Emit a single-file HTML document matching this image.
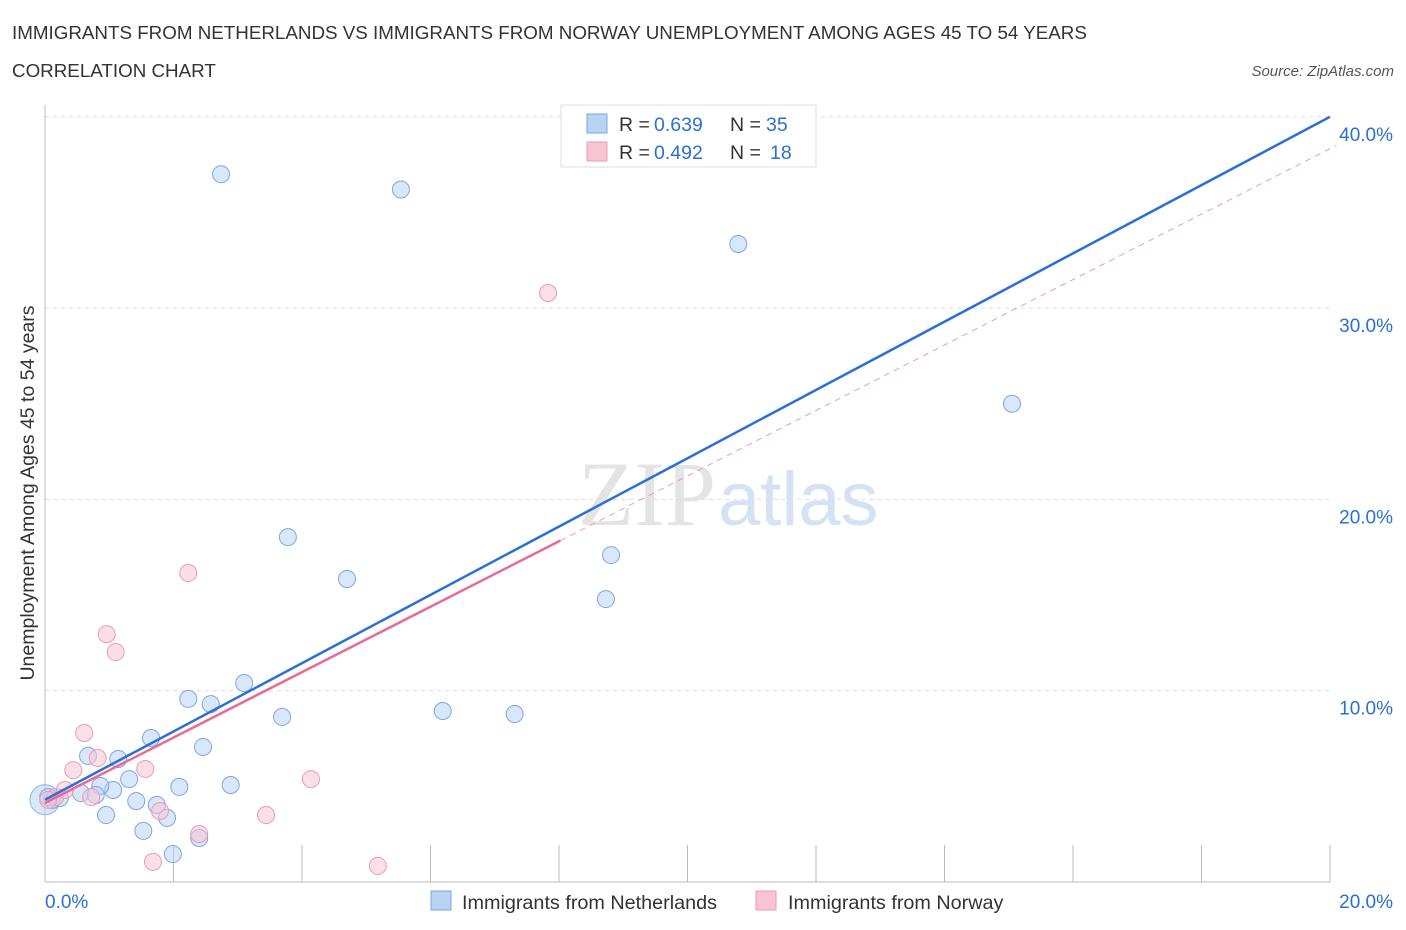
<!DOCTYPE html>
<html><head><meta charset="utf-8"><style>
body{margin:0;background:#fff;font-family:"Liberation Sans",sans-serif;}
svg{display:block}
</style></head><body>
<svg id="chart" width="1406" height="930">
<text x="12" y="39" font-size="18.8" fill="#333">IMMIGRANTS FROM NETHERLANDS VS IMMIGRANTS FROM NORWAY UNEMPLOYMENT AMONG AGES 45 TO 54 YEARS</text>
<text x="12" y="77" font-size="18.8" fill="#333">CORRELATION CHART</text>
<text x="1394" y="76" font-size="15" fill="#555" font-style="italic" text-anchor="end">Source: ZipAtlas.com</text>
<text x="716" y="525" font-size="92" fill="#e4e4e4" text-anchor="end" font-family="Liberation Serif,serif">ZIP</text>
<text x="718" y="525" font-size="76" fill="#d4e2f4">atlas</text>
<text transform="translate(34,493) rotate(-90)" font-size="19.5" fill="#333" text-anchor="middle">Unemployment Among Ages 45 to 54 years</text>
<g id="grid"></g><g id="marks"></g>
<g>
<rect x="561" y="105" width="255" height="62" fill="#fff" stroke="#ddd"/>
<rect x="587" y="114" width="20" height="19" fill="#b9d3f5" stroke="#7aa7e6"/>
<rect x="587" y="142" width="20" height="19" fill="#f8c4d4" stroke="#eb9bb5"/>
<text x="619" y="131" font-size="19.5" fill="#333">R =</text>
<text x="654" y="131" font-size="19.5" fill="#2b6fd6">0.639</text>
<text x="730" y="131" font-size="19.5" fill="#333">N =</text>
<text x="766" y="131" font-size="19.5" fill="#2b6fd6">35</text>
<text x="619" y="159" font-size="19.5" fill="#333">R =</text>
<text x="654" y="159" font-size="19.5" fill="#2b6fd6">0.492</text>
<text x="730" y="159" font-size="19.5" fill="#333">N =</text>
<text x="770" y="159" font-size="19.5" fill="#2b6fd6">18</text>
</g>
<g>
<rect x="431" y="891" width="20" height="19" fill="#b9d3f5" stroke="#7aa7e6"/>
<text x="462" y="909" font-size="19.8" fill="#333">Immigrants from Netherlands</text>
<rect x="756" y="891" width="20" height="19" fill="#f8c4d4" stroke="#eb9bb5"/>
<text x="788" y="909" font-size="19.8" fill="#333">Immigrants from Norway</text>
</g>
</svg>
<script>
const yTicks=[10,20,30,40];
const yTickLabels=["10.0%","20.0%","30.0%","40.0%"];
const xTickLabels=["0.0%","20.0%"];
const blueX=[2.74,5.54,10.79,15.05,3.78,4.70,8.81,8.73,3.10,2.23,2.58,3.69,6.19,7.31,1.65,2.46,0.67,1.14,1.31,2.09,2.89,1.06,0.86,0.56,0.79,1.42,1.74,0.95,1.90,1.53,2.40,1.99,0.11,0.23,0.05];
const blueY=[37.0,36.2,33.35,25.0,18.03,15.84,17.09,14.79,10.40,9.57,9.30,8.63,8.94,8.78,7.53,7.06,6.59,6.43,5.38,4.97,5.07,4.81,5.02,4.65,4.55,4.23,4.03,3.50,3.35,2.67,2.30,1.46,4.29,4.39,4.44];
const pinkX=[7.83,2.23,0.96,1.10,0.61,1.56,0.82,0.44,4.14,0.72,1.79,2.40,3.44,1.68,5.18,0.16,0.31,0.05];
const pinkY=[30.79,16.15,12.96,12.02,7.79,5.91,6.48,5.85,5.38,4.44,3.71,2.51,3.50,1.05,0.84,4.44,4.81,4.29];
const blueFit=[4.3,1.785];
const pinkFit=[4.13,1.71];
const pinkSolidEnd=8.02, pinkDashEnd=20.1;

const NS="http://www.w3.org/2000/svg";
const xs=v=>45+v/20*1285;
const ys=v=>882-v*19.13;
function mk(tag,attrs,parent){const e=document.createElementNS(NS,tag);for(const k in attrs)e.setAttribute(k,attrs[k]);parent.appendChild(e);return e;}
const grid=document.getElementById('grid'), marks=document.getElementById('marks');
yTicks.forEach((t,i)=>{
 const l=mk('line',{x1:45,x2:1330,y1:ys(t),y2:ys(t),stroke:'#ddd','stroke-dasharray':'4,4'},grid);
 
 
 const tx=mk('text',{x:1393,y:ys(t)+24,'font-size':19,fill:'#2b6fd6','text-anchor':'end'},grid);
 tx.textContent=yTickLabels[i];
 
 
});
const ax=mk('line',{x1:45,x2:1330,y1:882,y2:882,stroke:'#bbb'},grid);


const ay=mk('line',{x1:45,x2:45,y1:105,y2:882,stroke:'#bbb'},grid);


for(let i=0;i<=10;i++){
 const t=mk('line',{x1:xs(i*2),x2:xs(i*2),y1:845,y2:882,stroke:'#bbb'},grid);
 
 
}
[[0,45,'start'],[20,1393,'end']].forEach((d,i)=>{
 const t=mk('text',{x:d[1],y:908,'font-size':19,fill:'#2b6fd6','text-anchor':d[2]},grid);
 t.textContent=xTickLabels[i];
 
 
});
const big=mk('circle',{cx:xs(0),cy:ys(4.3),r:15,fill:'rgba(185,211,245,0.55)',stroke:'#8fb4e8'},marks);


blueX.forEach((x,i)=>{
 const c=mk('circle',{cx:xs(x),cy:ys(blueY[i]),r:8.5,fill:'rgba(185,211,245,0.55)',stroke:'#7aa7e6','stroke-width':1},marks);
 
 
});
pinkX.forEach((x,i)=>{
 const c=mk('circle',{cx:xs(x),cy:ys(pinkY[i]),r:8.5,fill:'rgba(248,196,212,0.55)',stroke:'#eb9bb5','stroke-width':1},marks);
 
 
});
const pd=mk('line',{x1:xs(pinkSolidEnd),y1:ys(pinkFit[0]+pinkFit[1]*pinkSolidEnd),x2:xs(pinkDashEnd),y2:ys(pinkFit[0]+pinkFit[1]*pinkDashEnd),stroke:'#eb9bb5','stroke-dasharray':'6,5','stroke-width':1},marks);


const bl=mk('line',{x1:xs(0),y1:ys(blueFit[0]),x2:xs(20),y2:ys(blueFit[0]+blueFit[1]*20),stroke:'#2b6fd6','stroke-width':2.5},marks);


const pl=mk('line',{x1:xs(0),y1:ys(pinkFit[0]),x2:xs(pinkSolidEnd),y2:ys(pinkFit[0]+pinkFit[1]*pinkSolidEnd),stroke:'#e86b97','stroke-width':2.5},marks);


</script>
</body></html>
